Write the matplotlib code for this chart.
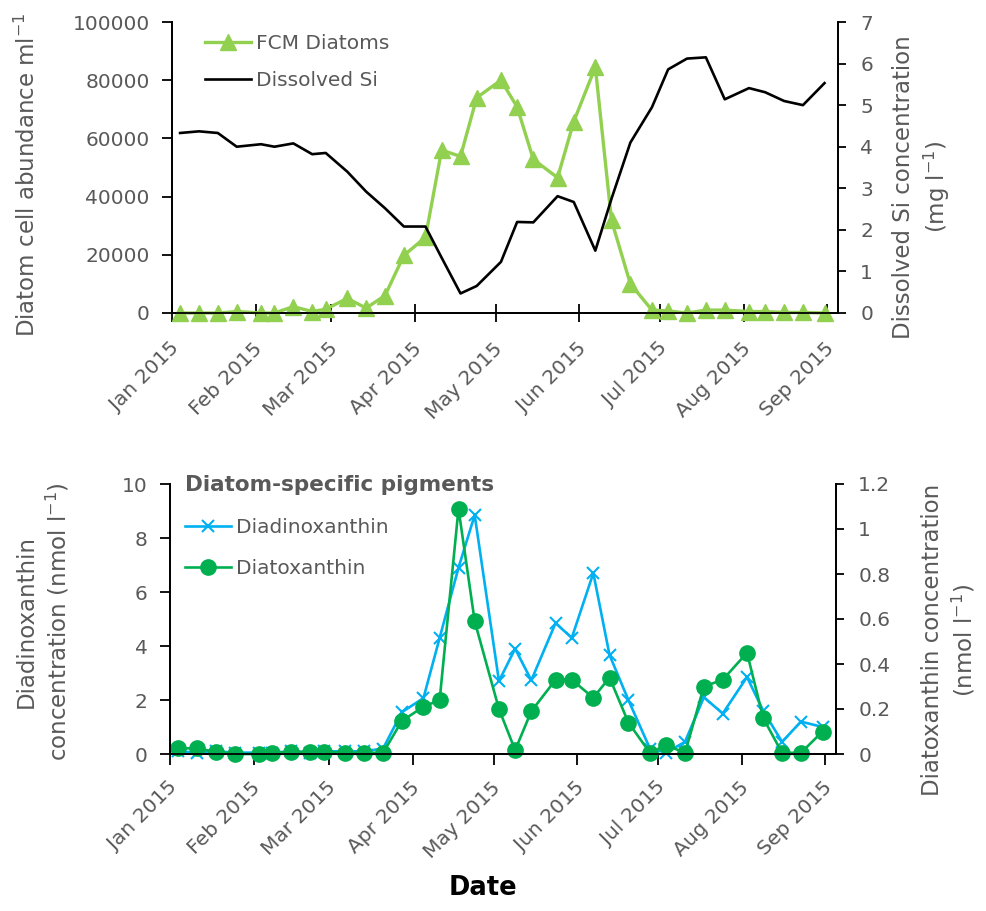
import matplotlib
matplotlib.use('Agg')
import matplotlib.pyplot as plt
import matplotlib.dates as mdates
import matplotlib.ticker as mticker
import matplotlib.transforms as mtransforms
import pandas as pd

# ---------------- data ----------------
sample_dates = ['2015-01-04', '2015-01-11', '2015-01-18', '2015-01-25', '2015-02-03',
                '2015-02-08', '2015-02-15', '2015-02-22', '2015-02-27', '2015-03-07',
                '2015-03-14', '2015-03-21', '2015-03-28', '2015-04-05', '2015-04-11',
                '2015-04-18', '2015-04-24', '2015-05-03', '2015-05-09', '2015-05-15',
                '2015-05-24', '2015-05-30', '2015-06-07', '2015-06-13', '2015-06-20',
                '2015-06-28', '2015-07-04', '2015-07-11', '2015-07-18', '2015-07-25',
                '2015-08-03', '2015-08-09', '2015-08-16', '2015-08-23', '2015-08-31']

fcm_diatoms = [0, 0, 0, 500, 0, 0, 2200, 500, 1300, 5000,
               1700, 6000, 19800, 26000, 56000, 53800, 74000, 80000, 70800, 52800,
               46500, 65800, 84500, 31800, 10000, 1000, 700, 0, 1000, 1000,
               500, 500, 200, 200, 0]

dissolved_si = [4.33, 4.37, 4.33, 4.0, 4.06, 4.0, 4.08, 3.82, 3.85, 3.4,
                2.92, 2.52, 2.08, 2.08, 1.33, 0.47, 0.65, 1.23, 2.19, 2.18,
                2.81, 2.67, 1.5, 2.75, 4.1, 4.95, 5.86, 6.12, 6.15, 5.14,
                5.41, 5.31, 5.1, 5.0, 5.53]

diadinoxanthin = [0.1, 0.05, 0.1, 0.05, 0.05, 0.05, 0.1, 0.05, 0.1, 0.1,
                  0.1, 0.2, 1.55, 2.07, 4.3, 6.9, 8.85, 2.7, 3.9, 2.73,
                  4.85, 4.3, 6.7, 3.67, 2.0, 0.2, 0.05, 0.45, 2.1, 1.5,
                  2.85, 1.6, 0.45, 1.2, 1.0]

diatoxanthin = [0.025, 0.025, 0.01, 0.0, 0.0, 0.005, 0.01, 0.01, 0.01, 0.005,
                0.005, 0.005, 0.147, 0.21, 0.24, 1.09, 0.59, 0.20, 0.017, 0.19,
                0.33, 0.33, 0.25, 0.34, 0.14, 0.005, 0.04, 0.005, 0.30, 0.33,
                0.45, 0.16, 0.005, 0.005, 0.10]

x_start, x_end = '2015-01-01', '2015-09-05'

# ---------------- style ----------------
plt.rcParams['font.family'] = ['DejaVu Sans']
plt.rcParams['mathtext.fontset'] = 'dejavusans'

GREY = '#595959'
TICK_FS = 14.5
LEG_FS = 14.5
LAB_FS = 16.5

dates = pd.to_datetime(sample_dates)

fig = plt.figure(figsize=(9.87, 9.11), dpi=100)

ax1 = fig.add_axes([172/987, 1-313/911, (838-172)/987, (313-22)/911])
ax1b = ax1.twinx()
ax2 = fig.add_axes([170/987, 1-754/911, (836-170)/987, (754-484)/911])
ax2b = ax2.twinx()

shift = mtransforms.ScaledTranslation(4/100, 0, fig.dpi_scale_trans)


def style_axes(ax, axb, xtick_dir, xtick_len, xpad):
    for a in (ax, axb):
        a.spines['top'].set_visible(False)
        for s in a.spines.values():
            s.set_linewidth(1.3)
            s.set_color('black')
    ax.set_xlim(pd.Timestamp(x_start), pd.Timestamp(x_end))
    ax.xaxis.set_major_locator(mdates.MonthLocator())
    ax.xaxis.set_major_formatter(mdates.DateFormatter('%b %Y'))
    ax.tick_params(axis='x', direction=xtick_dir, length=xtick_len, width=1.3,
                   colors='black', labelcolor=GREY, labelsize=TICK_FS, pad=xpad)
    for lab in ax.get_xticklabels():
        lab.set_rotation(45)
        lab.set_ha('right')
        lab.set_va('center')
        lab.set_rotation_mode('anchor')
        lab.set_transform(lab.get_transform() + shift)
    ax.tick_params(axis='y', direction='out', length=7, width=1.3,
                   colors='black', labelcolor=GREY, labelsize=TICK_FS, pad=9)
    axb.tick_params(axis='y', direction='out', length=6, width=1.3,
                    colors='black', labelcolor=GREY, labelsize=TICK_FS, pad=10)


# ---------------- top panel ----------------
l1, = ax1.plot(dates, fcm_diatoms, color='#92D050', lw=2.4, marker='^', ms=12,
               label='FCM Diatoms', clip_on=False, zorder=3)
l2, = ax1b.plot(dates, dissolved_si, color='black', lw=1.9, label='Dissolved Si',
                clip_on=False)
ax1.set_ylim(0, 100000)
ax1.yaxis.set_major_locator(mticker.MultipleLocator(20000))
ax1.yaxis.set_major_formatter(mticker.FuncFormatter(lambda v, p: f'{v:.0f}'))
ax1b.set_ylim(0, 7)
ax1b.yaxis.set_major_locator(mticker.MultipleLocator(1))
style_axes(ax1, ax1b, 'inout', 13, 17)

ax1.legend([l1, l2], ['FCM Diatoms', 'Dissolved Si'], loc='upper left',
           bbox_to_anchor=(205/987, 1-34/911), bbox_transform=fig.transFigure,
           frameon=False, fontsize=LEG_FS, handlelength=2.3, handletextpad=0.25,
           borderpad=0, borderaxespad=0, labelspacing=0.9, labelcolor=GREY)

fig.text(27/987, 1-175/911, 'Diatom cell abundance ml$^{-1}$', rotation=90,
         ha='center', va='center', fontsize=LAB_FS, color=GREY)
fig.text(922/987, 1-187/911, 'Dissolved Si concentration\n(mg l$^{-1}$)', rotation=90,
         ha='center', va='center', fontsize=LAB_FS, color=GREY, multialignment='center',
         linespacing=1.3)

# ---------------- bottom panel ----------------
l3, = ax2.plot(dates, diadinoxanthin, color='#00B0F0', lw=1.9, marker='x', ms=8,
               mew=1.5, label='Diadinoxanthin', clip_on=False)
l4, = ax2b.plot(dates, diatoxanthin, color='#00B050', lw=1.9, marker='o', ms=11,
                label='Diatoxanthin', clip_on=False)
ax2.set_ylim(0, 10)
ax2.yaxis.set_major_locator(mticker.MultipleLocator(2))
ax2b.set_ylim(0, 1.2)
ax2b.yaxis.set_major_locator(mticker.MultipleLocator(0.2))
ax2b.yaxis.set_major_formatter(mticker.FuncFormatter(lambda v, p: f'{v:g}'))
style_axes(ax2, ax2b, 'out', 8, 14)

fig.text(185/987, 1-485/911, 'Diatom-specific pigments', ha='left', va='center',
         fontsize=15.5, fontweight='bold', color=GREY)
ax2b.legend([l3, l4], ['Diadinoxanthin', 'Diatoxanthin'], loc='upper left',
            bbox_to_anchor=(185/987, 1-518/911), bbox_transform=fig.transFigure,
            frameon=False, fontsize=LEG_FS, handlelength=2.3, handletextpad=0.25,
            borderpad=0, borderaxespad=0, labelspacing=1.1, labelcolor=GREY)

fig.text(43/987, 1-622/911, 'Diadinoxanthin\nconcentration (nmol l$^{-1}$)', rotation=90,
         ha='center', va='center', fontsize=LAB_FS, color=GREY, multialignment='center',
         linespacing=1.3)
fig.text(949/987, 1-640/911, 'Diatoxanthin concentration\n(nmol l$^{-1}$)', rotation=90,
         ha='center', va='center', fontsize=LAB_FS, color=GREY, multialignment='center',
         linespacing=1.3)

fig.text(483/987, 1-888/911, 'Date', ha='center', va='center', fontsize=18.5,
         fontweight='bold', color='black')

fig.savefig('out.png', dpi=100)
